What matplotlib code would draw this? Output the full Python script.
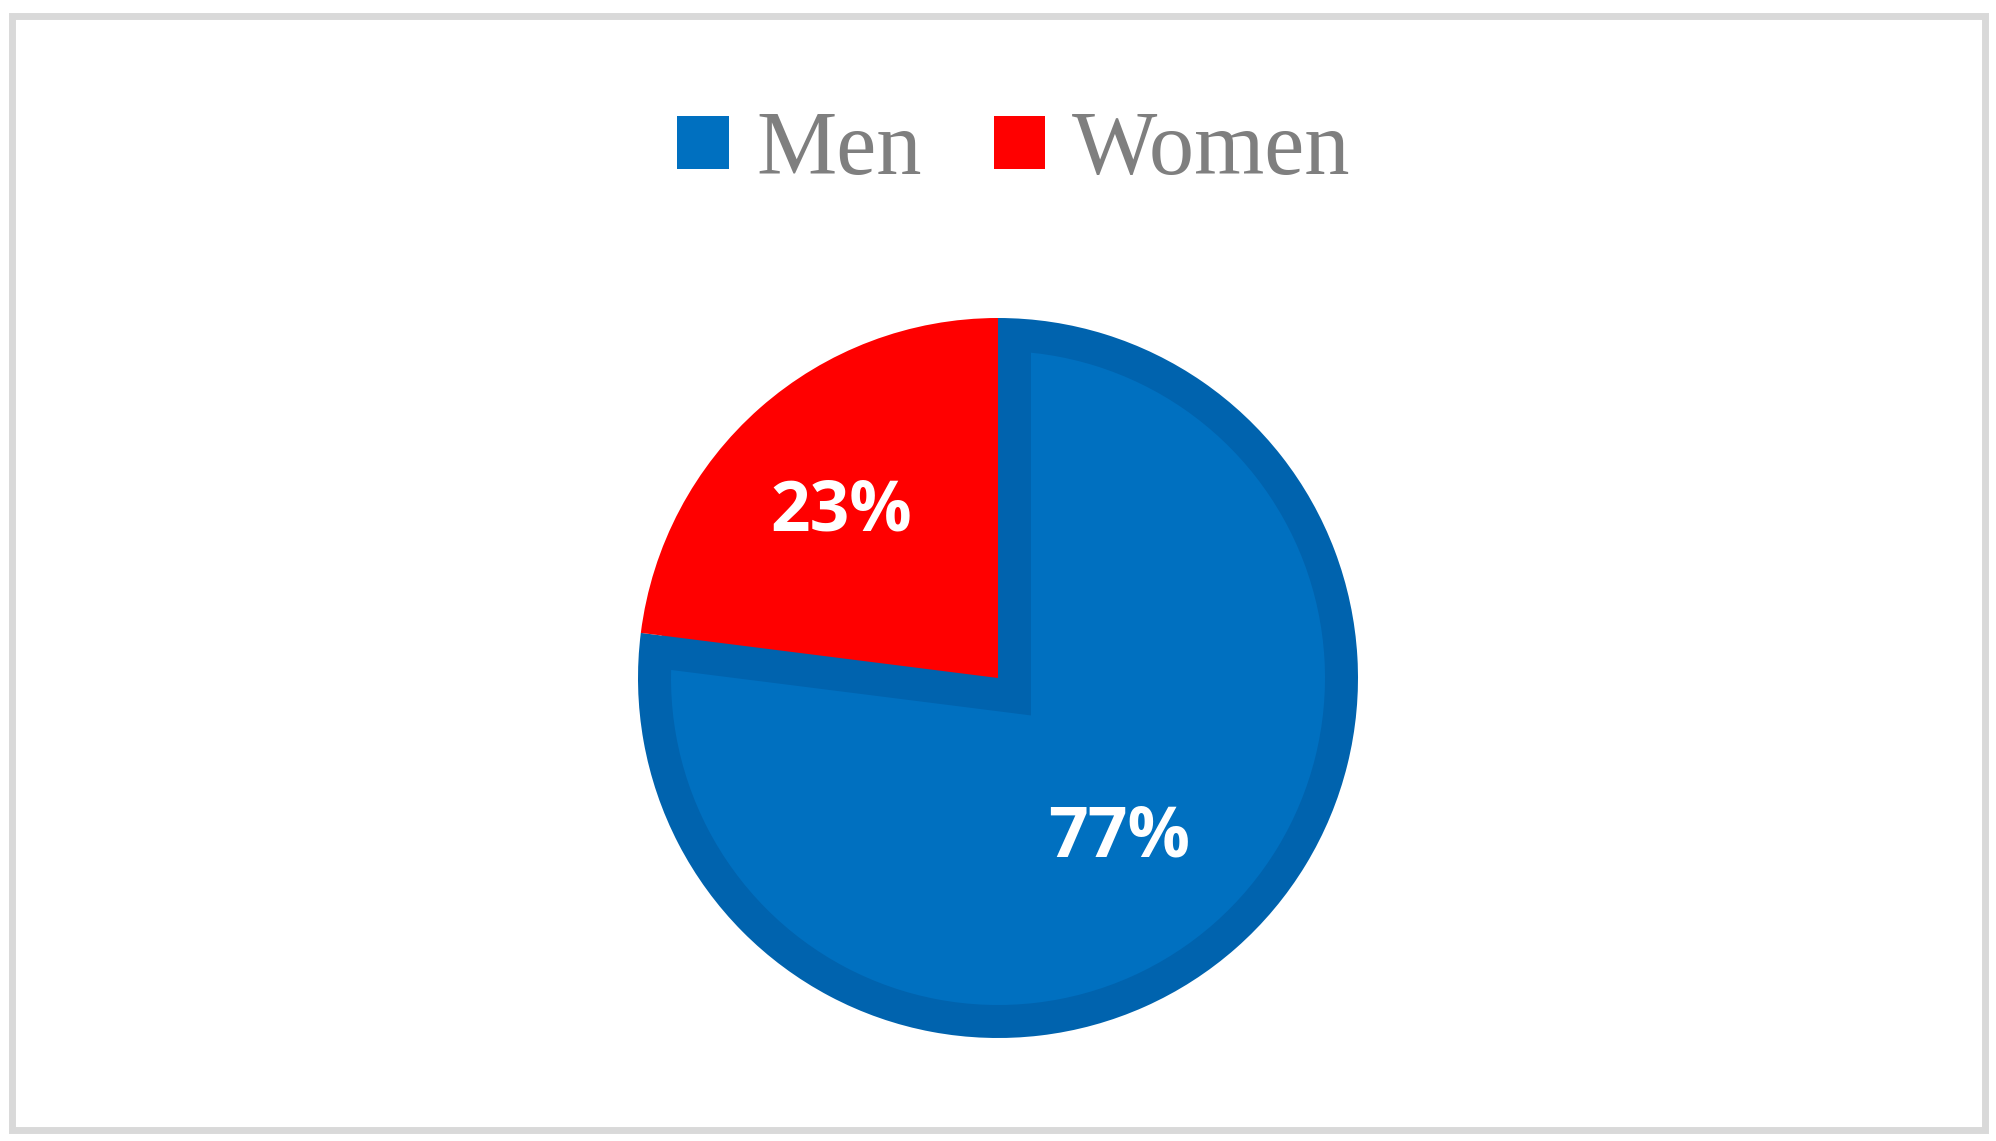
import numpy as np
import matplotlib
matplotlib.use('Agg')
import matplotlib.pyplot as plt
from matplotlib.patches import Rectangle, Patch, Wedge

labels = ['Men', 'Women']
shares = [77, 23]
colors = ['#0070C0', '#FF0000']
label_dist = [0.54, 0.65]
label_turn = [-3, 0.5]

W, H = 1996, 1141
fig = plt.figure(figsize=(W / 100, H / 100), dpi=100)

# outer light grey frame
fig.patches.append(Rectangle((11.5 / W, 11.5 / H), (1984.5 - 11.5) / W, (1125.5 - 11.5) / H,
                             transform=fig.transFigure, fill=False,
                             edgecolor='#d9d9d9', linewidth=5.0))

cx, cy, r = 998, H - 678, 360
ax = fig.add_axes([(cx - r) / W, (cy - r) / H, 2 * r / W, 2 * r / H])

wedges, _ = ax.pie(shares, colors=colors, startangle=90, counterclock=False,
                   radius=1.0, wedgeprops={'linewidth': 0})
ax.set_xlim(-1, 1)
ax.set_ylim(-1, 1)
ax.set_aspect('equal')

# darker band drawn inside the Men slice: dark base, lighter inner slice,
# then a dark band along the Women slice, Women slice back on top
band = 33 / r
dark = '#0063AE'
men, women = wedges
men.set_facecolor(dark)
ax.add_patch(Wedge((0, 0), 1 - band, men.theta1, men.theta2,
                   facecolor=colors[0], linewidth=0, zorder=men.get_zorder()))
half = np.deg2rad((women.theta2 - women.theta1) / 2)
mid = np.deg2rad((women.theta1 + women.theta2) / 2)
off = band / np.sin(half)
p = (-off * np.cos(mid), -off * np.sin(mid))
ax.add_patch(Wedge(p, 1.05, women.theta1, women.theta2,
                   facecolor=dark, linewidth=0, zorder=men.get_zorder()))
women.set_zorder(men.get_zorder() + 1)

for w, s, d, t in zip(wedges, shares, label_dist, label_turn):
    ang = np.deg2rad((w.theta1 + w.theta2) / 2 + t)
    ax.text(d * np.cos(ang), d * np.sin(ang), f'{s}%', ha='center', va='center_baseline',
            color='white', fontsize=50, fontweight='bold', family='Open Sans', zorder=5)

handles = [Patch(facecolor=c, edgecolor='none') for c in colors]
fig.legend(handles, labels, loc='center', bbox_to_anchor=(1014 / W, 1 - 152 / H),
           ncol=2, frameon=False, prop={'family': ['Liberation Serif', 'Times New Roman'], 'size': 65},
           labelcolor='#7f7f7f', handlelength=0.57, handleheight=0.52,
           handletextpad=0.3, columnspacing=0.8)

plt.savefig('out.png', dpi=100)
